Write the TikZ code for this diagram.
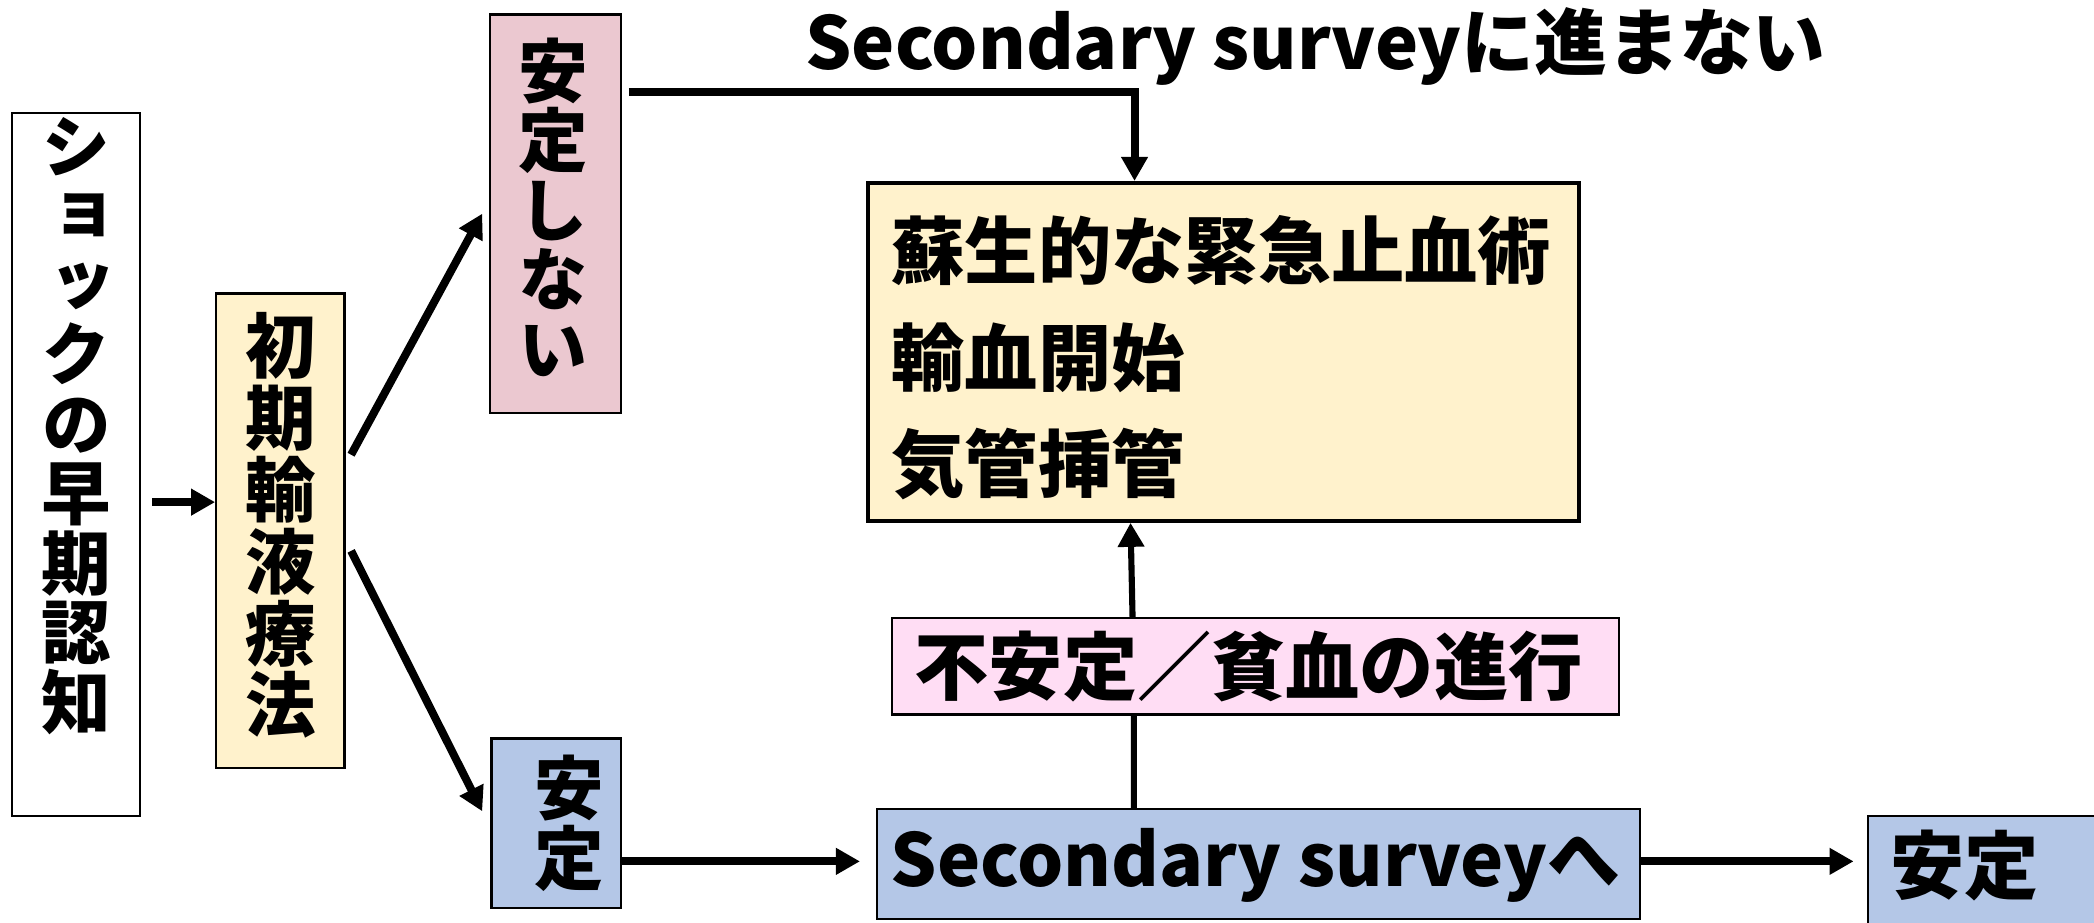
\documentclass[tikz,border=0pt]{standalone}
\usepackage{fontspec}
\setmainfont{Noto Sans CJK JP}
\newfontfamily\jpv{Noto Sans CJK JP}[RawFeature=+vert]
\usetikzlibrary{arrows.meta}
\definecolor{cyel}{HTML}{FFF2CC}
\definecolor{cpink}{HTML}{EBC8D0}
\definecolor{cmag}{HTML}{FFDDF4}
\definecolor{cblue}{HTML}{B4C7E7}
\begin{document}
\begin{tikzpicture}[x=0.01cm,y=-0.01cm,
  box/.style={draw=black, line width=0.5pt, inner sep=0pt},
  jtxt/.style={font=\bfseries\fontsize{15.8pt}{19pt}\selectfont, inner sep=0pt},
  ltxt/.style={font=\bfseries\fontsize{15.5pt}{19pt}\selectfont, inner sep=0pt},
  vtxt/.style={font=\jpv\bfseries\fontsize{14.8pt}{14.8pt}\selectfont, align=center, inner sep=0pt},
  arr/.style={line width=1.7pt, -{Triangle[length=0.18cm,width=0.19cm]}},
]
\useasboundingbox (0,0) rectangle (1568,691);

% boxes
\node[box, fill=white, minimum width=0.96cm, minimum height=5.26cm] (L) at (57,348) {};
\node[vtxt] (Lt) at (57,319) {シ\\ョ\\ッ\\ク\\の\\早\\期\\認\\知};

\node[box, fill=cyel, minimum width=0.96cm, minimum height=3.55cm] (I) at (210,397.5) {};
\node[vtxt, font=\jpv\bfseries\fontsize{15pt}{15.3pt}\selectfont] (It) at (210,393.5) {初\\期\\輸\\液\\療\\法};

\node[box, fill=cpink, minimum width=0.98cm, minimum height=2.98cm] (U) at (416,160) {};
\node[vtxt] (Ut) at (414.5,155) {安\\定\\し\\な\\い};

\node[box, fill=cblue, minimum width=0.97cm, minimum height=1.27cm] (S) at (416.5,616.5) {};
\node[vtxt] (St) at (426,616.5) {安\\定};

\node[box, line width=0.8pt, fill=cyel, minimum width=5.32cm, minimum height=2.53cm] (B) at (916,263.5) {};
\node[jtxt, align=left, anchor=west, font=\bfseries\fontsize{15.6pt}{22.7pt}\selectfont] (Bt) at (667,268) {蘇生的な緊急止血術\\輸血開始\\気管挿管};

\node[box, fill=cmag, minimum width=5.44cm, minimum height=0.72cm] (P) at (940,499) {};
\node[jtxt] (Pt) at (935,499) {不安定／貧血の進行};

\node[box, fill=cblue, minimum width=5.71cm, minimum height=0.82cm] (SS) at (942.5,647) {};
\node[ltxt] (SSt) at (940,648) {Secondary surveyへ};

\node[box, fill=cblue, minimum width=2.2cm, minimum height=1.2cm, anchor=north west] (R) at (1398,610) {};
\node[jtxt, anchor=west] (Rt) at (1415,648) {安定};

\node[ltxt] (T) at (985,35) {Secondary surveyに進まない};

% connectors
\coordinate (y1) at (0,376);
\coordinate (y2) at (0,645);
\draw[arr, shorten <=0.08cm] (L.east |- y1) -- (I.west |- y1);
\draw[arr] ([shift={(4,-57)}]I.east) -- ([shift={(-5,0)}]U.west);
\draw[arr] ([shift={(4,15)}]I.east) -- ([shift={(-6,-9)}]S.west);
\draw[arr] ([shift={(5,-91)}]U.east) -| ([xshift=2.01cm]B.north west);
\draw[line width=1.3pt] ([xshift=1.93cm]SS.north west) -- ([xshift=1.82cm]P.south west);
\draw[arr, line width=1.3pt] ([xshift=1.81cm]P.north west) -- ([xshift=1.98cm]B.south west);
\draw[arr, shorten >=0.12cm] (S.east |- y2) -- (SS.west |- y2);
\draw[arr, shorten >=0.1cm] (SS.east |- y2) -- (R.west |- y2);
\end{tikzpicture}
\end{document}
